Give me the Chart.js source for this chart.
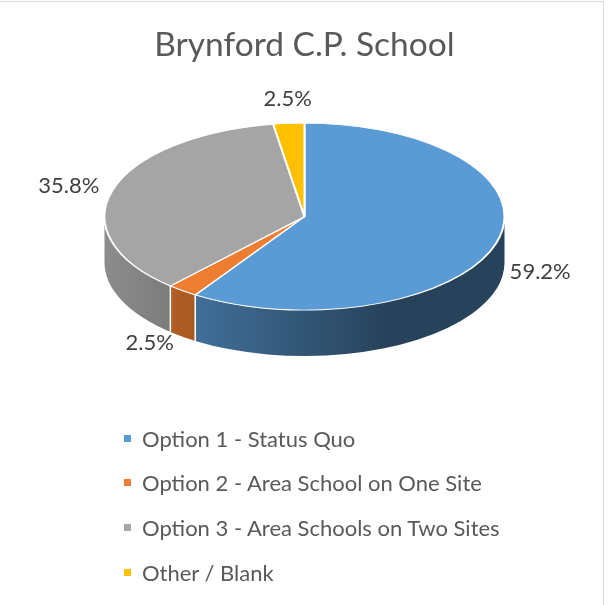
<!DOCTYPE html>
<html>
<head>
<meta charset="utf-8">
<title>Brynford C.P. School</title>
<script src="https://cdn.jsdelivr.net/npm/chart.js@4.4.1/dist/chart.umd.min.js"></script>
<style>
    html, body { margin: 0; padding: 0; background: #fff; }
    #wrap { position: relative; width: 609px; height: 605px; overflow: hidden; }
    #frame { position: absolute; left: -2px; top: 1px; width: 604px; height: 610px; border: 1px solid #d9d9d9; }
    canvas { position: absolute; left: 0; top: 0; }
    #legend { position: absolute; left: 124px; top: 416px; font-family: Lato, sans-serif; font-size: 22px; color: #595959; }
    .item { height: 44.6px; display: flex; align-items: center; white-space: nowrap; }
    .box { width: 7px; height: 7px; margin-right: 11px; flex: none; }
</style>
</head>
<body>
<div id="wrap">
    <div id="frame"></div>
    <canvas id="pieChart" width="609" height="605"></canvas>
    <div id="legend"></div>
</div>
<script>
// valores (porcentaje)
var categories = ['Option 1 - Status Quo', 'Option 2 - Area School on One Site', 'Option 3 - Area Schools on Two Sites', 'Other / Blank'];
var shares = [59.2, 2.5, 35.8, 2.5];
var sliceColors = ['#5b9bd5', '#ed7d31', '#a5a5a5', '#ffc000'];

var tilt = 0.4675;  // aplastamiento vertical de la cara superior
var depth = 46;     // grosor del lateral 3D

function shade(hex, f) {
    var n = parseInt(hex.slice(1), 16);
    var r = Math.round(((n >> 16) & 255) * f);
    var g = Math.round(((n >> 8) & 255) * f);
    var b = Math.round((n & 255) * f);
    return 'rgb(' + r + ',' + g + ',' + b + ')';
}

var pie3d = {
    id: 'pie3d',
    beforeDatasetsDraw: function (chart) {
        var ctx = chart.ctx;
        var arcs = chart.getDatasetMeta(0).data;
        var cx = arcs[0].x, cy = arcs[0].y, r = arcs[0].outerRadius;
        var d = depth / tilt;
        ctx.save();
        ctx.translate(0, cy);
        ctx.scale(1, tilt);
        ctx.translate(0, -cy);

        // lateral (solo la mitad delantera)
        arcs.forEach(function (arc, i) {
            var s = Math.max(arc.startAngle, 0);
            var e = Math.min(arc.endAngle, Math.PI);
            if (e <= s) return;
            var g = ctx.createLinearGradient(cx - r, 0, cx + r, 0);
            g.addColorStop(0, shade(sliceColors[i], 0.85));
            g.addColorStop(0.7, shade(sliceColors[i], 0.43));
            g.addColorStop(1, shade(sliceColors[i], 0.43));
            ctx.beginPath();
            ctx.arc(cx, cy, r, s, e);
            ctx.arc(cx, cy + d, r, e, s, true);
            ctx.closePath();
            ctx.fillStyle = g;
            ctx.fill();
        });

        // separaciones blancas en el lateral
        ctx.strokeStyle = '#ffffff';
        ctx.lineWidth = 1.5;
        arcs.forEach(function (arc) {
            var a = arc.endAngle;
            if (a > 0 && a < Math.PI) {
                var x = cx + r * Math.cos(a), y = cy + r * Math.sin(a);
                ctx.beginPath();
                ctx.moveTo(x, y);
                ctx.lineTo(x, y + d);
                ctx.stroke();
            }
        });
        // la transformación sigue activa para que Chart.js dibuje la cara superior
    },
    afterDatasetsDraw: function (chart) {
        var ctx = chart.ctx;
        ctx.restore();

        var arcs = chart.getDatasetMeta(0).data;
        ctx.save();
        ctx.font = '22px Lato';
        ctx.fillStyle = '#404040';
        arcs.forEach(function (arc, i) {
            var mid = (arc.startAngle + arc.endAngle) / 2;
            var c = Math.cos(mid), s = Math.sin(mid);
            var x = arc.x + arc.outerRadius * c;
            var y = arc.y + arc.outerRadius * tilt * s;
            if (s > 0) y += depth * Math.sqrt(s);
            x += 14 * c;
            y += 14 * s;
            if (c > 0.3) {
                ctx.textAlign = 'left';
                ctx.textBaseline = 'middle';
            } else if (c < -0.3) {
                ctx.textAlign = 'right';
                ctx.textBaseline = 'middle';
            } else {
                ctx.textAlign = 'center';
                ctx.textBaseline = s < 0 ? 'bottom' : 'top';
            }
            ctx.fillText(shares[i].toFixed(1) + '%', x, y);
        });
        ctx.restore();
    }
};

var chart = new Chart(document.getElementById('pieChart'), {
    type: 'pie',
    data: {
        labels: categories,
        datasets: [{
            data: shares,
            backgroundColor: sliceColors,
            borderColor: '#ffffff',
            borderWidth: 2,
            radius: 200,
            clip: false
        }]
    },
    options: {
        responsive: false,
        animation: false,
        events: [],
        devicePixelRatio: 1,
        layout: { padding: { top: 0, bottom: 247 } },
        plugins: {
            legend: { display: false },
            tooltip: { enabled: false },
            title: {
                display: true,
                text: 'Brynford C.P. School',
                color: '#595959',
                font: { family: 'Lato', size: 33.5, weight: 'normal' },
                padding: { top: 25, bottom: 10 }
            }
        }
    },
    plugins: [pie3d]
});

// leyenda en HTML, una opción por línea
var legend = document.getElementById('legend');
categories.forEach(function (name, i) {
    var row = document.createElement('div');
    row.className = 'item';
    var box = document.createElement('span');
    box.className = 'box';
    box.style.background = sliceColors[i];
    row.appendChild(box);
    row.appendChild(document.createTextNode(name));
    legend.appendChild(row);
});
</script>
</body>
</html>
